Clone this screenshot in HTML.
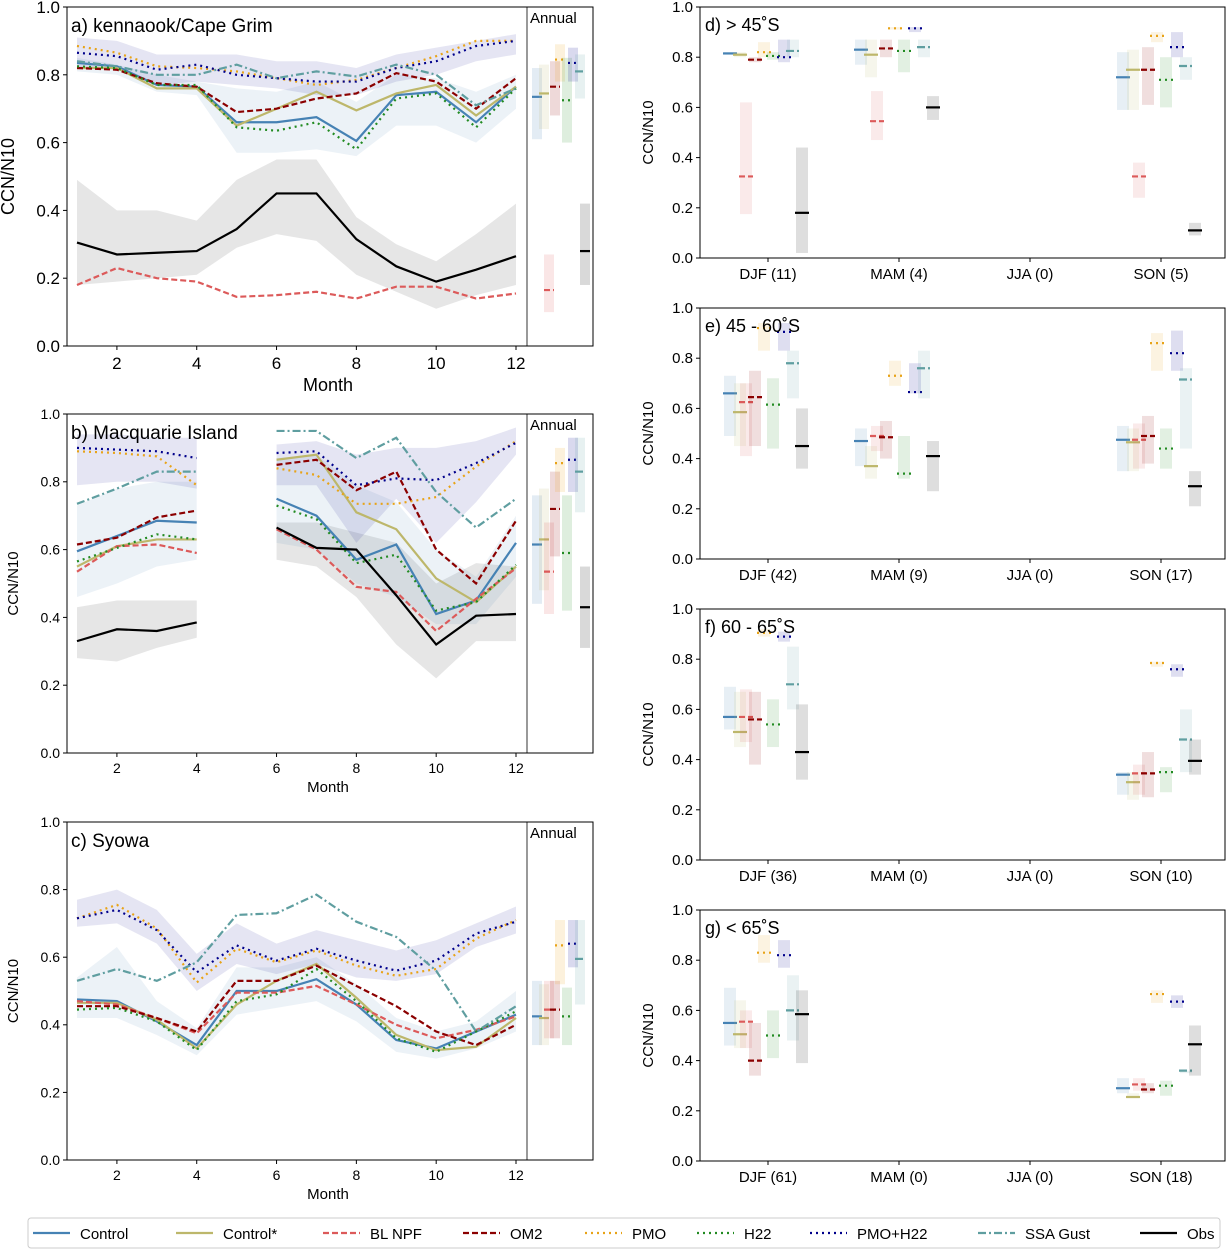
<!DOCTYPE html>
<html><head><meta charset="utf-8"><style>
body{margin:0;background:#fff;font-family:"Liberation Sans","DejaVu Sans",sans-serif}
svg{display:block}
</style></head><body>
<svg id="c" width="1229" height="1250" xmlns="http://www.w3.org/2000/svg" font-family="Liberation Sans, DejaVu Sans, sans-serif"></svg>
<script>
const seriesNames=["Control","Control*","BL NPF","OM2","PMO","H22","PMO+H22","SSA Gust","Obs"];
const months=[1,2,3,4,5,6,7,8,9,10,11,12];
const seasons=["DJF","MAM","JJA","SON"];
const N=null;
// Panel a
const aControl=[.835,.825,.77,.765,.66,.66,.675,.605,.74,.75,.66,.765];
const aControlS=[.82,.82,.76,.76,.65,.7,.75,.695,.745,.77,.68,.765];
const aBLNPF=[.18,.23,.2,.19,.145,.15,.16,.14,.175,.175,.14,.155];
const aOM2=[.82,.815,.775,.765,.69,.7,.73,.745,.805,.78,.7,.79];
const aPMO=[.885,.865,.825,.82,.81,.79,.77,.785,.82,.855,.9,.9];
const aH22=[.825,.82,.77,.77,.645,.635,.66,.58,.73,.745,.645,.76];
const aPMOH22=[.865,.855,.815,.83,.8,.79,.78,.78,.82,.84,.885,.9];
const aSSA=[.84,.825,.8,.8,.83,.79,.81,.795,.83,.8,.71,.76];
const aObs=[.305,.27,.275,.28,.345,.45,.45,.315,.235,.19,.225,.265];
const aObsLo=[.18,.19,.2,.21,.29,.33,.31,.21,.16,.11,.15,.18];
const aObsHi=[.49,.4,.4,.37,.49,.55,.55,.38,.3,.25,.33,.42];
const aCtlLo=[.81,.8,.75,.74,.57,.57,.58,.56,.65,.65,.6,.7];
const aCtlHi=[.85,.83,.8,.78,.76,.75,.78,.72,.8,.79,.75,.8];
const aNavLo=[.82,.82,.77,.78,.77,.76,.74,.74,.78,.8,.84,.86];
const aNavHi=[.91,.9,.86,.86,.86,.84,.84,.82,.86,.88,.9,.92];
const aAnnVal=[.735,.745,.165,.765,.845,.725,.835,.81,.28];
const aAnnLo=[.61,.64,.1,.68,.78,.6,.78,.73,.18];
const aAnnHi=[.82,.83,.27,.84,.89,.85,.88,.86,.42];
// Panel b
const bControl=[.595,.64,.685,.68,N,.75,.7,.57,.615,.41,.45,.62];
const bControlS=[.55,.61,.63,.63,N,.865,.88,.71,.66,.515,.445,.55];
const bBLNPF=[.535,.61,.615,.59,N,.66,.6,.49,.475,.36,.455,.545];
const bOM2=[.615,.635,.695,.715,N,.85,.865,.775,.83,.6,.5,.685];
const bPMO=[.89,.885,.875,.79,N,.84,.82,.735,.735,.755,.845,.92];
const bH22=[.565,.605,.645,.63,N,.73,.69,.56,.585,.42,.445,.555];
const bPMOH22=[.9,.895,.89,.87,N,.885,.89,.79,.81,.805,.855,.915];
const bSSA=[.735,.78,.83,.83,N,.95,.95,.87,.93,.77,.665,.75];
const bObs=[.33,.365,.36,.385,N,.665,.605,.6,.465,.32,.405,.41];
const bObsLo=[.28,.27,.31,.34,N,.57,.55,.46,.32,.22,.33,.33];
const bObsHi=[.43,.45,.45,.45,N,.68,.68,.65,.62,.5,.56,.55];
const bCtlLo=[.46,.5,.55,.57,N,.62,.6,.5,.46,.38,.38,.52];
const bCtlHi=[.73,.78,.8,.8,N,.87,.88,.79,.74,.6,.52,.7];
const bNavLo=[.79,.8,.8,.78,N,.79,.79,.62,.75,.62,.74,.88];
const bNavHi=[.94,.94,.93,.93,N,.91,.92,.88,.9,.9,.92,.96];
const bAnnVal=[.615,.63,.535,.72,.855,.59,.865,.83,.43];
const bAnnLo=[.44,.48,.41,.58,.77,.42,.77,.71,.31];
const bAnnHi=[.76,.78,.68,.83,.9,.76,.93,.93,.55];
// Panel c
const cControl=[.475,.47,.41,.34,.5,.5,.535,.46,.355,.33,.38,.43];
const cControlS=[.465,.465,.415,.33,.46,.53,.58,.48,.37,.325,.335,.42];
const cBLNPF=[.47,.46,.42,.375,.495,.495,.515,.46,.4,.36,.385,.425];
const cOM2=[.455,.455,.42,.38,.53,.53,.575,.515,.455,.38,.34,.4];
const cPMO=[.715,.755,.685,.525,.625,.585,.62,.575,.545,.565,.655,.71];
const cH22=[.445,.45,.41,.325,.47,.49,.565,.47,.36,.32,.38,.44];
const cPMOH22=[.715,.74,.68,.555,.635,.59,.625,.59,.56,.59,.67,.705];
const cSSA=[.53,.565,.53,.585,.725,.73,.785,.705,.66,.56,.38,.455];
const cCtlLo=[.42,.42,.37,.31,.43,.45,.47,.41,.32,.3,.33,.38];
const cCtlHi=[.54,.63,.47,.39,.57,.57,.6,.52,.42,.38,.41,.5];
const cNavLo=[.69,.7,.64,.5,.58,.55,.58,.54,.53,.55,.63,.67];
const cNavHi=[.77,.8,.74,.61,.7,.64,.68,.65,.62,.65,.7,.75];
const cAnnVal=[.425,.42,.445,.445,.635,.425,.64,.595,N];
const cAnnLo=[.34,.34,.36,.36,.52,.34,.57,.46,N];
const cAnnHi=[.53,.52,.53,.53,.71,.51,.71,.71,N];
// Right panels: [season][series]
const dVal=[[.815,.81,.325,.79,.82,.805,.8,.825,.18],[.83,.81,.545,.835,.915,.825,.915,.84,.6],[],[.72,.75,.325,.75,.885,.71,.84,.765,.11]];
const dLo=[[.81,.8,.175,.78,.8,.79,.78,.8,.02],[.77,.72,.47,.8,.91,.74,.9,.8,.55],[],[.59,.59,.24,.61,.86,.6,.8,.71,.09]];
const dHi=[[.82,.82,.62,.8,.86,.82,.87,.87,.44],[.87,.87,.665,.87,.92,.87,.92,.87,.645],[],[.82,.83,.38,.84,.9,.8,.9,.8,.14]];
const dCounts=[11,4,0,5];
const eVal=[[.66,.585,.625,.645,.92,.615,.905,.78,.45],[.47,.37,.49,.485,.73,.34,.665,.76,.41],[],[.475,.465,.475,.49,.86,.44,.82,.715,.29]];
const eLo=[[.49,.45,.41,.45,.83,.44,.83,.64,.36],[.37,.32,.43,.4,.69,.32,.66,.64,.27],[],[.35,.35,.36,.38,.75,.36,.75,.44,.21]];
const eHi=[[.73,.7,.7,.75,.94,.72,.94,.83,.6],[.52,.45,.53,.55,.79,.49,.78,.83,.47],[],[.53,.52,.54,.57,.9,.52,.91,.76,.35]];
const eCounts=[42,9,0,17];
const fVal=[[.57,.51,.57,.56,.905,.54,.89,.70,.43],[],[],[.34,.31,.345,.345,.785,.35,.76,.48,.395]];
const fLo=[[.52,.45,.47,.38,.89,.45,.87,.6,.32],[],[],[.26,.24,.26,.25,.77,.27,.73,.35,.34]];
const fHi=[[.69,.67,.68,.67,.92,.64,.91,.85,.62],[],[],[.35,.35,.38,.43,.79,.37,.78,.6,.48]];
const fCounts=[36,0,0,10];
const gVal=[[.55,.505,.555,.40,.83,.5,.82,.6,.585],[],[],[.29,.255,.305,.285,.665,.30,.635,.36,.465]];
const gLo=[[.46,.45,.45,.34,.79,.41,.77,.48,.39],[],[],[.27,.25,.28,.27,.63,.26,.61,.35,.34]];
const gHi=[[.69,.64,.6,.55,.9,.6,.88,.74,.68],[],[],[.33,.27,.33,.31,.68,.32,.66,.36,.54]];
const gCounts=[61,0,0,18];

const colors=["#4682b4","#bdb76b","#dc5a5a","#8b0000","#e8a317","#228b22","#00008b","#5f9ea0","#000000"];
const dashes=["","","6,3","6,3","2,4","2,4","2,4","8,3,2,3",""];
const svg=document.getElementById('c');
const NS="http://www.w3.org/2000/svg";
function mk(tag,attrs,parent){const e=document.createElementNS(NS,tag);for(const k in attrs)e.setAttribute(k,attrs[k]);(parent||svg).appendChild(e);return e;}
function txt(s,x,y,size,anchor,parent){const t=mk('text',{x:x,y:y,'font-size':size,'text-anchor':anchor||'start',fill:'#000'},parent);t.textContent=s;return t;}

function leftPanel(cfg){
  const g=mk('g',{});
  
  
  const {x0,x1,xa,y0,y1}=cfg;
  const xs=m=>77+(m-1)*(516-77)/11;
  const ys=v=>y1-(v)*(y1-y0);
  function band(lo,hi,col,op,nm){
    let segs=[[]];
    lo.forEach((v,i)=>{if(v===null){segs.push([]);}else segs[segs.length-1].push(i);});
    segs.filter(s=>s.length).forEach(s=>{
      let d=s.map((i,k)=>(k?'L':'M')+xs(months[i])+','+ys(hi[i])).join('')+s.slice().reverse().map(i=>'L'+xs(months[i])+','+ys(lo[i])).join('')+'Z';
      const p=mk('path',{d:d,fill:col,'fill-opacity':op},g);
      
      
    });
  }
  if(cfg.obsLo) band(cfg.obsLo,cfg.obsHi,'#808080',0.2,'obs-range-band');
  band(cfg.ctlLo,cfg.ctlHi,'#4682b4',0.1,'control-range-band');
  band(cfg.navLo,cfg.navHi,'#00008b',0.1,'pmo-h22-range-band');
  cfg.series.forEach((arr,si)=>{
    if(!arr) return;
    let d='',pen=false;
    arr.forEach((v,i)=>{if(v===null){pen=false;return;}d+=(pen?'L':'M')+xs(months[i])+','+ys(v);pen=true;});
    const p=mk('path',{d:d,fill:'none',stroke:colors[si],'stroke-width':2.2,'stroke-dasharray':dashes[si]},g);
    
    
  });
  const ax=[537,544,549,555,560,567,573,580,585];
  cfg.ann[0].forEach((v,si)=>{
    if(v===null) return;
    const r=mk('rect',{x:ax[si]-5,y:ys(cfg.ann[2][si]),width:10,height:ys(cfg.ann[1][si])-ys(cfg.ann[2][si]),fill:colors[si],'fill-opacity':0.15},g);
    
    
    const l=mk('line',{x1:ax[si]-5,x2:ax[si]+5,y1:ys(v),y2:ys(v),stroke:colors[si],'stroke-width':2.2,'stroke-dasharray':dashes[si]},g);
    
    
  });
  mk('rect',{x:x0,y:y0,width:x1-x0,height:y1-y0,fill:'none',stroke:'#000','stroke-width':1},g);
  mk('line',{x1:xa,x2:xa,y1:y0,y2:y1,stroke:'#000','stroke-width':0.8},g);
  txt('Annual',xa+3,y0+16,15,'start',g);
  const fs=cfg.fs;
  [0,0.2,0.4,0.6,0.8,1.0].forEach(v=>{
    mk('line',{x1:x0-4,x2:x0,y1:ys(v),y2:ys(v),stroke:'#000'},g);
    txt(v.toFixed(1),x0-7,ys(v)+fs*0.35,fs,'end',g);
  });
  [2,4,6,8,10,12].forEach(m=>{
    mk('line',{x1:xs(m),x2:xs(m),y1:y1,y2:y1+4,stroke:'#000'},g);
    txt(String(m),xs(m),y1+6+fs,fs,'middle',g);
  });
  txt('Month',328,y1+fs+10+cfg.lfs,cfg.lfs,'middle',g);
  const t=txt('CCN/N10',0,0,cfg.lfs,'middle',g);
  t.setAttribute('transform',`translate(${cfg.labx} ${(y0+y1)/2}) rotate(-90)`);
  txt(cfg.title,71,y0+25,19,'start',g);
}
leftPanel({name:'panel-a-kennaook',x0:67,x1:593,xa:527,y0:7,y1:346,fs:17,lfs:18,labx:14,title:'a) kennaook/Cape Grim',
  series:[aControl,aControlS,aBLNPF,aOM2,aPMO,aH22,aPMOH22,aSSA,aObs],obsLo:aObsLo,obsHi:aObsHi,ctlLo:aCtlLo,ctlHi:aCtlHi,navLo:aNavLo,navHi:aNavHi,ann:[aAnnVal,aAnnLo,aAnnHi]});
leftPanel({name:'panel-b-macquarie',x0:67,x1:593,xa:527,y0:414,y1:753,fs:14,lfs:15,labx:18,title:'b) Macquarie Island',
  series:[bControl,bControlS,bBLNPF,bOM2,bPMO,bH22,bPMOH22,bSSA,bObs],obsLo:bObsLo,obsHi:bObsHi,ctlLo:bCtlLo,ctlHi:bCtlHi,navLo:bNavLo,navHi:bNavHi,ann:[bAnnVal,bAnnLo,bAnnHi]});
leftPanel({name:'panel-c-syowa',x0:67,x1:593,xa:527,y0:822,y1:1160,fs:14,lfs:15,labx:18,title:'c) Syowa',
  series:[cControl,cControlS,cBLNPF,cOM2,cPMO,cH22,cPMOH22,cSSA,null],obsLo:null,ctlLo:cCtlLo,ctlHi:cCtlHi,navLo:cNavLo,navHi:cNavHi,ann:[cAnnVal,cAnnLo,cAnnHi]});

function rightPanel(cfg){
  const g=mk('g',{});
  
  
  const x0=700,x1=1225,y0=cfg.y0,y1=cfg.y0+251;
  const ys=v=>y1-v*(y1-y0);
  const cx=i=>768+i*131;
  const off=[-38,-28,-22,-13,-4,5,16,25,34];
  seasons.forEach((s,ci)=>{
    (cfg.val[ci]||[]).forEach((v,si)=>{
      const x=cx(ci)+off[si];
      const r=mk('rect',{x:x-6,y:ys(cfg.hi[ci][si]),width:12,height:ys(cfg.lo[ci][si])-ys(cfg.hi[ci][si]),fill:colors[si],'fill-opacity':0.13},g);
      
      
      const l=mk('line',{x1:x-7,x2:x+7,y1:ys(v),y2:ys(v),stroke:colors[si],'stroke-width':2.2,'stroke-dasharray':dashes[si]},g);
      
      
    });
    mk('line',{x1:cx(ci),x2:cx(ci),y1:y1,y2:y1+4,stroke:'#000'},g);
    txt(s+' ('+cfg.counts[ci]+')',cx(ci),y1+21,15,'middle',g);
  });
  mk('rect',{x:x0,y:y0,width:x1-x0,height:y1-y0,fill:'none',stroke:'#000'},g);
  [0,0.2,0.4,0.6,0.8,1.0].forEach(v=>{
    mk('line',{x1:x0-4,x2:x0,y1:ys(v),y2:ys(v),stroke:'#000'},g);
    txt(v.toFixed(1),x0-7,ys(v)+5,15,'end',g);
  });
  const t=txt('CCN/N10',0,0,15,'middle',g);
  t.setAttribute('transform',`translate(653 ${(y0+y1)/2}) rotate(-90)`);
  txt(cfg.title,705,y0+24,18,'start',g);
}
rightPanel({name:'panel-d-north-45s',y0:7,title:'d) > 45˚S',val:dVal,lo:dLo,hi:dHi,counts:dCounts});
rightPanel({name:'panel-e-45-60s',y0:308,title:'e) 45 - 60˚S',val:eVal,lo:eLo,hi:eHi,counts:eCounts});
rightPanel({name:'panel-f-60-65s',y0:609,title:'f) 60 - 65˚S',val:fVal,lo:fLo,hi:fHi,counts:fCounts});
rightPanel({name:'panel-g-south-65s',y0:910,title:'g) < 65˚S',val:gVal,lo:gLo,hi:gHi,counts:gCounts});

const lg=mk('g',{});


mk('rect',{x:28,y:1218,width:1192,height:30,rx:3,fill:'#fff',stroke:'#ccc'},lg);
const lx=[33,176,323,463,585,697,810,978,1140];
seriesNames.forEach((n,i)=>{
  const e=mk('g',{},lg);
  
  
  mk('line',{x1:lx[i],x2:lx[i]+37,y1:1233,y2:1233,stroke:colors[i],'stroke-width':2.2,'stroke-dasharray':dashes[i]},e);
  txt(n,lx[i]+47,1239,15,'start',e);
});
</script>
</body></html>
